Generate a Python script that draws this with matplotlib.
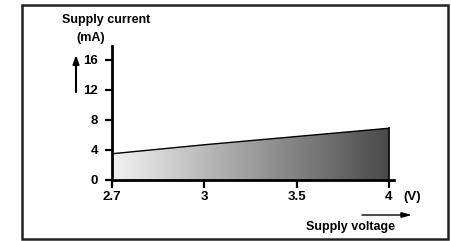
import matplotlib
matplotlib.use("Agg")
import matplotlib.pyplot as plt
import numpy as np
from matplotlib.patches import Rectangle, FancyArrowPatch
from matplotlib.colors import LinearSegmentedColormap

voltage_labels = ["2.7", "3", "3.5", "4"]
current_ma = [3.5, 4.7, 5.8, 6.9]
y_ticks = [0, 4, 8, 12, 16]

plt.rcParams['font.family'] = ['Liberation Sans', 'DejaVu Sans']
plt.rcParams['font.weight'] = 'bold'

W, H = 452, 241
fig = plt.figure(figsize=(W / 100, H / 100), dpi=100)

def fx(px):
    return px / W

def fy(py):
    return 1 - py / H

# outer frame
fig.patches.append(Rectangle((fx(22), fy(239)), fx(448) - fx(22), fy(5) - fy(239),
                             transform=fig.transFigure, fill=False,
                             edgecolor='#222222', linewidth=1.8))

ax = fig.add_axes([fx(112), fy(180), fx(394) - fx(112), fy(46) - fy(180)])
pos = np.arange(len(voltage_labels))
ax.set_xlim(0, 3 + 5 / 92.3)
ax.set_ylim(0, 134 / 7.5)

# gradient fill
poly = ax.fill_between(pos, 0, current_ma, facecolor='none', edgecolor='none')
grad = np.linspace(0, 1, 256).reshape(1, -1)
cmap = LinearSegmentedColormap.from_list('g', ['#f2f2f2', '#4a4a4a'])
im = ax.imshow(grad, extent=[pos[0], pos[-1], 0, max(current_ma)], aspect='auto',
               cmap=cmap, origin='lower', zorder=1)
path = poly.get_paths()[0]
im.set_clip_path(path, transform=ax.transData)
ax.plot(pos, current_ma, color='black', linewidth=1.0, zorder=3)
ax.plot([pos[-1], pos[-1]], [0, current_ma[-1]], color='black', linewidth=1.2, zorder=3)

for s in ['top', 'right']:
    ax.spines[s].set_visible(False)
for s in ['left', 'bottom']:
    ax.spines[s].set_linewidth(2.0)
    ax.spines[s].set_zorder(4)

ax.set_xticks(pos)
ax.set_xticklabels(voltage_labels)
ax.set_yticks(y_ticks)
ax.tick_params(axis='y', direction='out', length=5, width=1.6, labelsize=9.5, pad=5)
ax.tick_params(axis='x', direction='out', length=6, width=1.6, labelsize=9.5, pad=2)
for lab in ax.get_xticklabels() + ax.get_yticklabels():
    lab.set_fontweight('bold')
ax.patch.set_visible(False)

# texts
fig.text(fx(106), fy(20), "Supply current", ha='center', va='center', fontsize=9, fontweight='bold')
fig.text(fx(91), fy(38), "(mA)", ha='center', va='center', fontsize=9, fontweight='bold')
fig.text(fx(412), fy(197), "(V)", ha='center', va='center', fontsize=9.5, fontweight='bold')
fig.text(fx(351), fy(227), "Supply voltage", ha='center', va='center', fontsize=9, fontweight='bold')

fig.patches.append(FancyArrowPatch((fx(76), fy(92)), (fx(76), fy(55)), transform=fig.transFigure,
                                   arrowstyle='-|>,head_length=5,head_width=1.8', color='black',
                                   linewidth=1.5, mutation_scale=1, shrinkA=0, shrinkB=0))
fig.patches.append(FancyArrowPatch((fx(362), fy(215)), (fx(412), fy(215)), transform=fig.transFigure,
                                   arrowstyle='-|>,head_length=6,head_width=1.6', color='black',
                                   linewidth=1.0, mutation_scale=1, shrinkA=0, shrinkB=0))

fig.savefig("out.png", dpi=100)
